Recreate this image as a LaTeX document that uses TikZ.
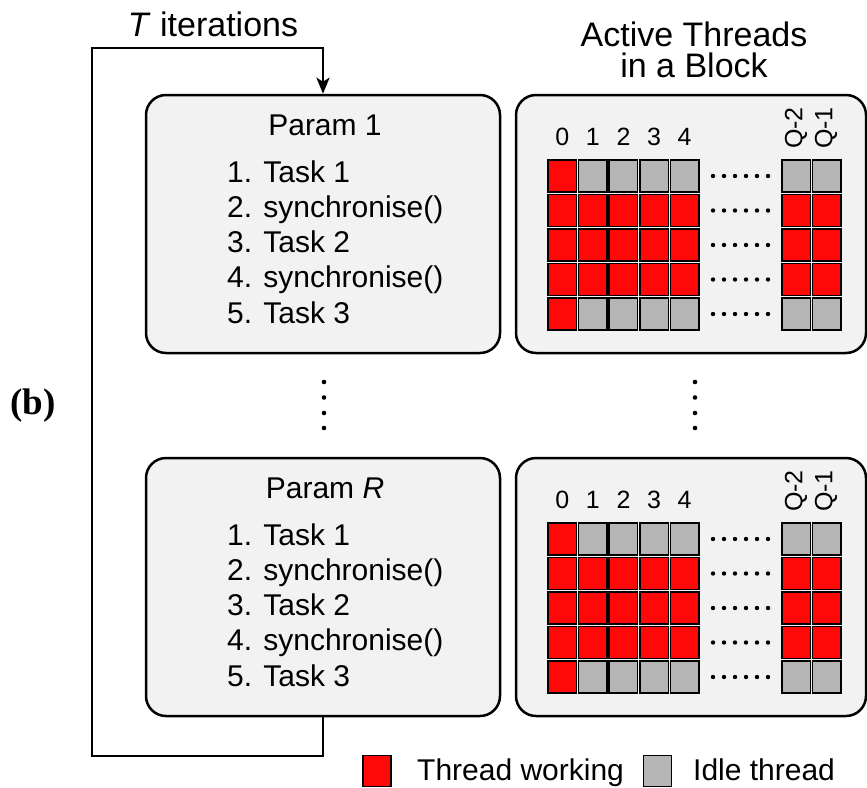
\documentclass[tikz,border=0pt]{standalone}
\usepackage{fontspec}
\setmainfont{Liberation Sans}
\newfontfamily\panelfont{Liberation Serif}
\usetikzlibrary{arrows.meta, positioning}

\definecolor{panelgray}{gray}{0.95}
\definecolor{idlegray}{gray}{0.71}
\definecolor{threadred}{rgb}{1,0.03,0.03}

\begin{document}
\begin{tikzpicture}[x=1pt,y=-1pt,inner sep=0pt]
\tikzstyle{panel}=[draw=black,line width=2.5pt,fill=panelgray,rounded corners=20pt,minimum height=258pt]
\tikzstyle{cell}=[draw=black,line width=1.5pt]
\tikzstyle{iterloop}=[line width=2.8pt,-{Stealth[length=16pt,width=13pt,inset=4pt]}]
\tikzstyle{bigtext}=[font=\fontsize{30}{36}\selectfont]
\tikzstyle{titletext}=[font=\fontsize{34}{31}\selectfont]
\tikzstyle{collabel}=[font=\fontsize{25}{30}\selectfont]

\useasboundingbox (0,0) rectangle (867,787);

% panels
\node[panel,minimum width=354pt] (pone) at (323,224) {};
\node[panel,minimum width=350pt] (blkone) at (691,224) {};
\node[panel,minimum width=354pt] (pR) at (323,587) {};
\node[panel,minimum width=350pt] (blkR) at (691,587) {};

\node[titletext,anchor=base] (iters) at (213,36) {\textit{T} iterations};
\node[titletext,anchor=north,align=center] (blktitle) at (694,22) {Active Threads\\in a Block};
\node[font=\panelfont\bfseries\fontsize{37}{42}\selectfont,anchor=base] (tag) at (33,414) {(b)};

% loop over iterations
\coordinate (loopbot) at (92,756);
\coordinate (looptop) at (92,48);
\draw[iterloop] (pR.south) |- (loopbot) -- (looptop) -| (pone.north);

% parameter lists
\node[bigtext,anchor=base] (ponename) at (325,135) {Param 1};
\node[bigtext,anchor=base] (pRname) at (325,498) {Param \textit{R}};
\foreach \oy/\p in {0/one,363/R}
  \foreach \t [count=\i from 0] in {1. Task 1,2. synchronise(),3. Task 2,4. synchronise(),5. Task 3}
    \node[bigtext,anchor=base west] (p\p step\i) at (227,182+35.3*\i+\oy) {\t};

% vertical dots
\foreach \y in {382,397.5,413,428} {
  \fill (324,\y) circle (2.3pt);
  \fill (695,\y) circle (2.3pt);
}

% thread blocks
\foreach \oy in {0,363} {
  \foreach \x [count=\c from 0] in {548,578.6,609.2,639.8,670.4}
    \node[collabel,anchor=base] (col\c-\oy) at (\x+14.25,145+\oy) {\c};
  \node[collabel,rotate=90] (colqb-\oy) at (796,128+\oy) {Q-2};
  \node[collabel,rotate=90] (colqa-\oy) at (826,128+\oy) {Q-1};
  \foreach \r in {0,...,4} {
    \foreach \x [count=\c] in {548,578.6,609.2,639.8,670.4,782,812.5} {
      \pgfmathtruncatemacro\on{or(and(\r>0,\r<4),\c==1)}
      \ifnum\on=1 \def\cellcol{threadred}\else\def\cellcol{idlegray}\fi
      \draw[cell,fill=\cellcol] (\x,160+34.5*\r+\oy) rectangle ++(28.5,32);
    }
    \foreach \k in {0,...,5}
      \fill (713+11*\k,176+34.5*\r+\oy) circle (2.2pt);
  }
}

% legend
\node[cell,fill=threadred,minimum width=28pt,minimum height=31pt] (keywork) at (377,771) {};
\node[bigtext,anchor=base west] (keyworktext) at (417,780) {Thread working};
\node[cell,fill=idlegray,minimum width=28pt,minimum height=31pt] (keyidle) at (657.5,771) {};
\node[bigtext,anchor=base west] (keyidletext) at (693,780) {Idle thread};
\end{tikzpicture}
\end{document}
